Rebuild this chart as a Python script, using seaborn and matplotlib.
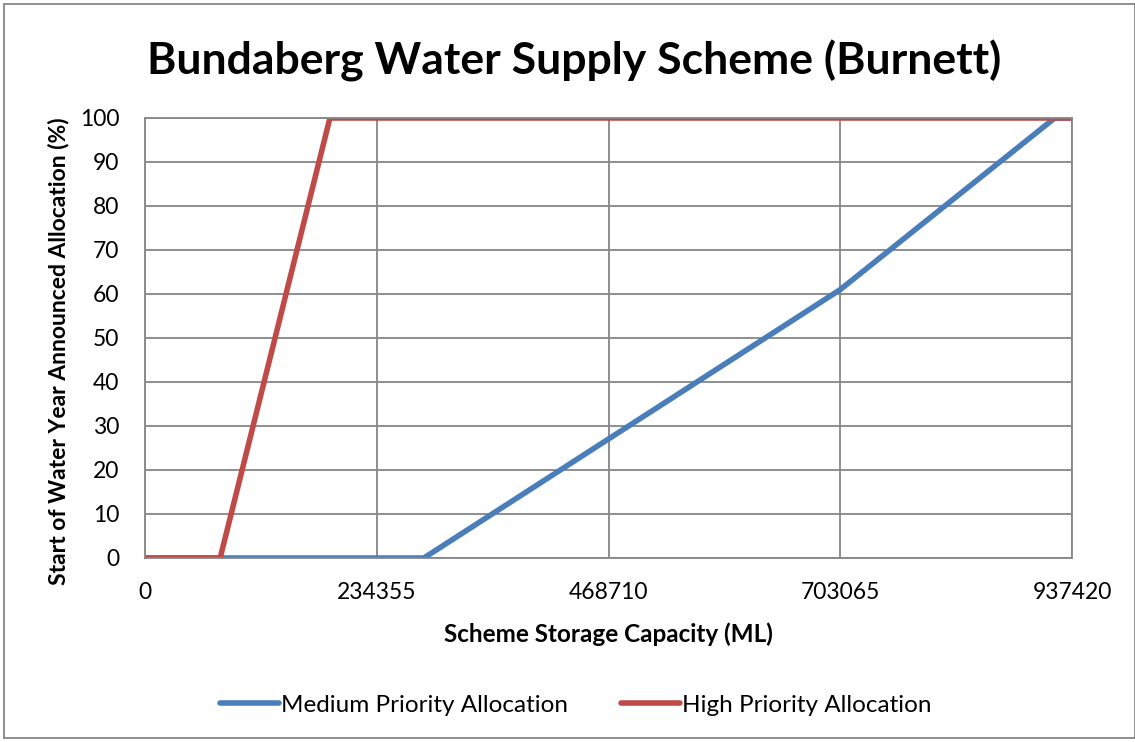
import matplotlib
matplotlib.use("Agg")
import matplotlib.pyplot as plt
import seaborn as sns
import pandas as pd
from matplotlib.patches import Rectangle

medium_x = [0, 282000, 703065, 920000, 937420]
medium_y = [0, 0, 61, 100, 100]
high_x = [0, 76000, 187000, 937420]
high_y = [0, 0, 100, 100]
x_ticks = [0, 234355, 468710, 703065, 937420]
y_ticks = list(range(0, 101, 10))
series_names = ["Medium Priority Allocation", "High Priority Allocation"]

df = pd.concat([
    pd.DataFrame({"x": medium_x, "y": medium_y, "series": series_names[0]}),
    pd.DataFrame({"x": high_x, "y": high_y, "series": series_names[1]}),
], ignore_index=True)

sns.set_style("white")
plt.rcParams['font.family'] = ['Lato', 'DejaVu Sans']
plt.rcParams['text.color'] = 'black'
plt.rcParams['axes.labelcolor'] = 'black'
plt.rcParams['xtick.color'] = 'black'
plt.rcParams['ytick.color'] = 'black'

fig = plt.figure(figsize=(11.35, 7.42), dpi=100)
ax = fig.add_axes([145/1135, 1-558/742, (1072-145)/1135, (558-118)/742])

sns.lineplot(data=df, x="x", y="y", hue="series", sort=False, estimator=None,
             palette={series_names[0]: "#4A7EBB", series_names[1]: "#BE4B48"},
             linewidth=4.0, ax=ax, legend=True)

ax.set_xlim(0, 937420)
ax.set_ylim(0, 100)
ax.set_xticks(x_ticks)
ax.set_xticklabels([str(t) for t in x_ticks])
ax.set_yticks(y_ticks)
ax.grid(True, color="#868686", linewidth=1.3)
ax.set_axisbelow(True)
for s in ax.spines.values():
    s.set_color("#868686")
    s.set_linewidth(1.3)
ax.tick_params(axis="both", length=0, labelsize=16.5)
ax.tick_params(axis="x", pad=17.5)
ax.tick_params(axis="y", pad=18.5)
ax.set_xlabel("Scheme Storage Capacity (ML)", fontsize=17.5, fontweight="bold", labelpad=14)
ax.set_ylabel("Start of Water Year Announced Allocation (%)", fontsize=16.5, fontweight="bold")
ax.yaxis.set_label_coords(-0.082, 0.47)
ax.set_title("Bundaberg Water Supply Scheme (Burnett)", fontsize=32, fontweight="bold", pad=31,
             x=(574-145)/927)

handles, labels = ax.get_legend_handles_labels()
ax.get_legend().remove()
fig.legend(handles, labels, loc="center", bbox_to_anchor=(576/1135, 1-705/742), ncol=2,
           frameon=False, fontsize=17.5, handlelength=2.4, handletextpad=0.1, columnspacing=2.2)

fig.patches.append(Rectangle((4/1135, 4/742), 1 - 4/1135, 1 - 8/742, transform=fig.transFigure,
                             fill=False, edgecolor="#868686", linewidth=1.3))

fig.savefig("out.png", dpi=100)
